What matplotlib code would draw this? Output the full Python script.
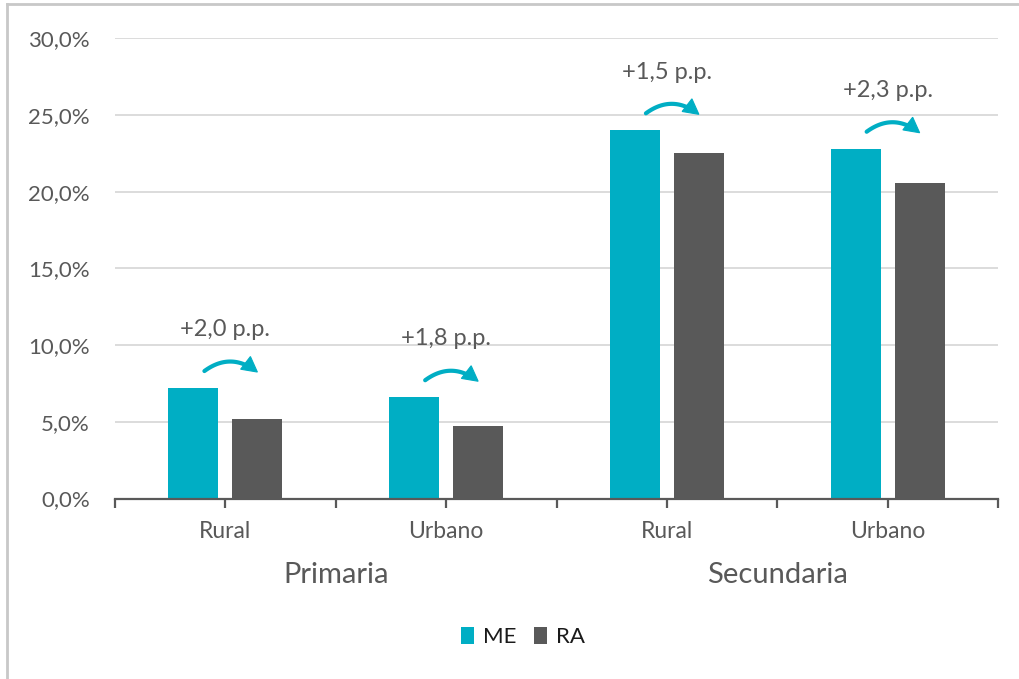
import matplotlib
matplotlib.use("Agg")
import matplotlib.pyplot as plt
from matplotlib.patches import Patch, PathPatch, Polygon
from matplotlib.path import Path
from matplotlib.lines import Line2D
from matplotlib.transforms import IdentityTransform
from matplotlib.ticker import FuncFormatter, FixedLocator
import numpy as np

plt.rcParams['font.family'] = ['Lato', 'DejaVu Sans']

categories = ["Rural", "Urbano", "Rural", "Urbano"]
groups = ["Primaria", "Secundaria"]
series_names = ["ME", "RA"]
me_values = [7.2, 6.6, 24.0, 22.8]
ra_values = [5.15, 4.75, 22.55, 20.55]
gap_labels = ["+2,0 p.p.", "+1,8 p.p.", "+1,5 p.p.", "+2,3 p.p."]

TEAL = "#00AEC4"
DARK = "#595959"
GRID = "#D9D9D9"
TXT = "#595959"

W, H = 1020, 679
fig = plt.figure(figsize=(W / 100, H / 100), dpi=100)
ax = fig.add_axes([115 / W, 1 - 498.5 / H, (998 - 115) / W, (498.5 - 38.3) / H])

x = np.arange(len(categories))
off = 0.145
bw = 0.226
ax.bar(x - off, me_values, width=bw, color=TEAL, zorder=3, label=series_names[0])
ax.bar(x + off, ra_values, width=bw, color=DARK, zorder=3, label=series_names[1])

ax.set_xlim(-0.5, len(categories) - 0.5)
ax.set_ylim(0, 30)
ax.yaxis.set_major_locator(FixedLocator(np.arange(0, 30.1, 5)))
ax.yaxis.set_major_formatter(FuncFormatter(lambda v, p: f"{v:.1f}".replace('.', ',') + "%"))
ax.grid(axis='y', color=GRID, linewidth=1.3, zorder=0)
ax.set_axisbelow(True)

for s in ['top', 'right', 'left']:
    ax.spines[s].set_visible(False)
ax.spines['bottom'].set_color(DARK)
ax.spines['bottom'].set_linewidth(1.6)
ax.spines['bottom'].set_zorder(4)

ax.tick_params(axis='y', length=0, pad=18, labelsize=16, labelcolor=TXT)
ax.set_xticks(x)
ax.set_xticklabels(categories)
ax.set_xticks(np.arange(-0.5, len(categories), 1.0), minor=True)
ax.tick_params(axis='x', which='both', direction='out', length=6.5, width=1.6,
               color=DARK, labelsize=16.5, labelcolor=TXT, pad=10)

# group labels
for gi, g in enumerate(groups):
    cx = 2 * gi + 0.5
    ax.annotate(g, xy=(cx, 0), xycoords=('data', 'axes fraction'),
                xytext=(0, -55), textcoords='offset points',
                ha='center', va='center', fontsize=21, color=TXT)


def curved_arrow(p0, p2, rise, head_len=15.0, head_half=8.0, lw=3.0):
    p0 = np.asarray(p0, float)
    p2 = np.asarray(p2, float)
    mid = (p0 + p2) / 2
    c = mid + np.array([0.0, 2 * rise])
    t = np.linspace(0, 1, 60)
    pts = ((1 - t) ** 2)[:, None] * p0 + (2 * (1 - t) * t)[:, None] * c + (t ** 2)[:, None] * p2
    d = p2 - c
    d = d / np.hypot(*d)
    base = p2 - head_len * d
    # cut curve where it reaches head base
    dist = np.hypot(*(pts - p2).T)
    keep = dist >= head_len * 0.7
    line_pts = pts[keep]
    path = Path(line_pts)
    fig.patches.append(PathPatch(path, facecolor='none', edgecolor=TEAL, linewidth=lw,
                                 transform=IdentityTransform(), capstyle='round', zorder=5))
    perp = np.array([-d[1], d[0]])
    tri = np.array([p2, base + head_half * perp, base - head_half * perp])
    fig.patches.append(Polygon(tri, closed=True, facecolor=TEAL, edgecolor=TEAL,
                               linewidth=0.8, transform=IdentityTransform(), zorder=5))


# arrows and gap labels
for i in range(len(categories)):
    top = me_values[i]
    a = ax.transData.transform((x[i] - off + 0.05, top)) + np.array([0, 17])
    b = ax.transData.transform((x[i] + off, top)) + np.array([0, 16])
    curved_arrow(a, b, rise=10)
    ax.annotate(gap_labels[i], xy=(x[i], top), xycoords='data',
                xytext=(0, 42), textcoords='offset points',
                ha='center', va='center', fontsize=17, color=TXT, zorder=6)

# legend
handles = [Patch(facecolor=TEAL, edgecolor='none'), Patch(facecolor=DARK, edgecolor='none')]
fig.legend(handles, series_names, loc='center', bbox_to_anchor=(523 / W, 1 - 637 / H),
           ncol=2, frameon=False, fontsize=16, handlelength=0.6, handleheight=0.8,
           handletextpad=0.4, columnspacing=0.8, labelcolor='#1A1A1A')

# chart border (left and top)
fig.add_artist(Line2D([7 / W, 7 / W], [0, 1 - 4 / H], transform=fig.transFigure,
                      color='#C8C8C8', linewidth=2))
fig.add_artist(Line2D([7 / W, 1], [1 - 4 / H, 1 - 4 / H], transform=fig.transFigure,
                      color='#C8C8C8', linewidth=2))

fig.savefig("out.png", dpi=100)
